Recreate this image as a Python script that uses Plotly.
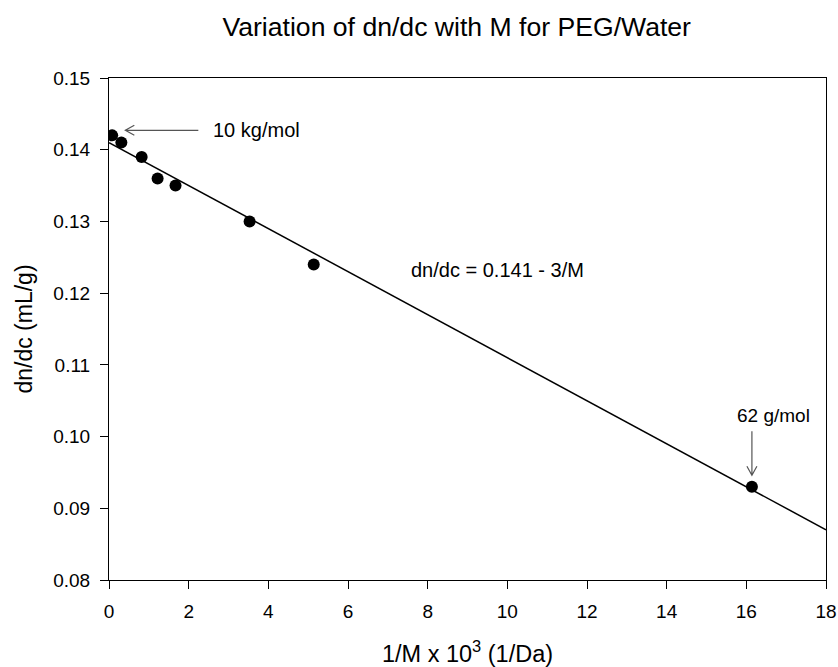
import plotly.graph_objects as go

# data
inv_m = [0.08, 0.31, 0.82, 1.22, 1.67, 3.53, 5.14, 16.14]   # 1/M x 10^3 (1/Da)
dndc = [0.142, 0.141, 0.139, 0.136, 0.135, 0.130, 0.124, 0.093]  # mL/g
fit_x = [0, 18]
fit_y = [0.141, 0.087]
x_ticks = [0, 2, 4, 6, 8, 10, 12, 14, 16, 18]
y_ticks = [0.08, 0.09, 0.10, 0.11, 0.12, 0.13, 0.14, 0.15]

FONT = "Arial, Liberation Sans, sans-serif"

fig = go.Figure()
fig.add_trace(go.Scatter(x=fit_x, y=fit_y, mode="lines",
                         line=dict(color="black", width=1.5), showlegend=False))
fig.add_trace(go.Scatter(x=inv_m, y=dndc, mode="markers",
                         marker=dict(color="black", size=12), showlegend=False))

arrow_col = "#555555"
# arrow pointing to 10 kg/mol point
fig.add_shape(type="path", xref="x", yref="y", xsizemode="pixel", ysizemode="pixel",
              xanchor=0.41, yanchor=0.1427,
              path="M 0,0 L 73,0 M 9,5 L 0,0 L 9,-5",
              line=dict(color=arrow_col, width=1.2))
# arrow pointing to 62 g/mol point
fig.add_shape(type="path", xref="x", yref="y", xsizemode="pixel", ysizemode="pixel",
              xanchor=16.14, yanchor=0.0946,
              path="M 0,0 L 0,44 M -5,9 L 0,0 L 5,9",
              line=dict(color=arrow_col, width=1.2))

fig.add_annotation(x=2.56, y=0.1427, xref="x", yref="y", text="10 kg/mol",
                   showarrow=False, xanchor="left", yanchor="middle",
                   font=dict(family=FONT, size=20, color="black"))
fig.add_annotation(x=15.72, y=0.103, xref="x", yref="y", text="62 g/mol",
                   showarrow=False, xanchor="left", yanchor="middle",
                   font=dict(family=FONT, size=19, color="black"))
fig.add_annotation(x=9.75, y=0.1232, xref="x", yref="y", text="dn/dc = 0.141 - 3/M",
                   showarrow=False, xanchor="center", yanchor="middle",
                   font=dict(family=FONT, size=20, color="black"))

fig.update_layout(
    width=838, height=667,
    margin=dict(l=108.5, r=12, t=78, b=87),
    paper_bgcolor="white", plot_bgcolor="white",
    font=dict(family=FONT, color="black"),
    title=dict(text="Variation of dn/dc with M for PEG/Water",
               font=dict(family=FONT, size=26.6, color="black"),
               x=0.545, xanchor="center", xref="container",
               y=1 - 27 / 667, yanchor="middle", yref="container"),
    xaxis=dict(range=[0, 18], tickvals=x_ticks, ticks="outside", ticklen=8,
               tickcolor="black", showline=True, linecolor="black", linewidth=1,
               mirror=True, showgrid=False, zeroline=False, automargin=False,
               tickfont=dict(family=FONT, size=19), ticklabelstandoff=6,
               title=dict(text="1/M x 10<sup>3</sup> (1/Da)",
                          font=dict(family=FONT, size=23.5), standoff=26)),
    yaxis=dict(range=[0.08, 0.15], tickvals=y_ticks, tickformat=".2f",
               ticks="outside", ticklen=8, tickcolor="black",
               showline=True, linecolor="black", linewidth=1,
               mirror=True, showgrid=False, zeroline=False, automargin=False,
               tickfont=dict(family=FONT, size=19), ticklabelstandoff=6,
               title=dict(text="dn/dc (mL/g)", font=dict(family=FONT, size=23),
                          standoff=14)),
)

fig.write_html("out.html", post_script="document.body.style.margin='0';",
               config={"displayModeBar": False})
